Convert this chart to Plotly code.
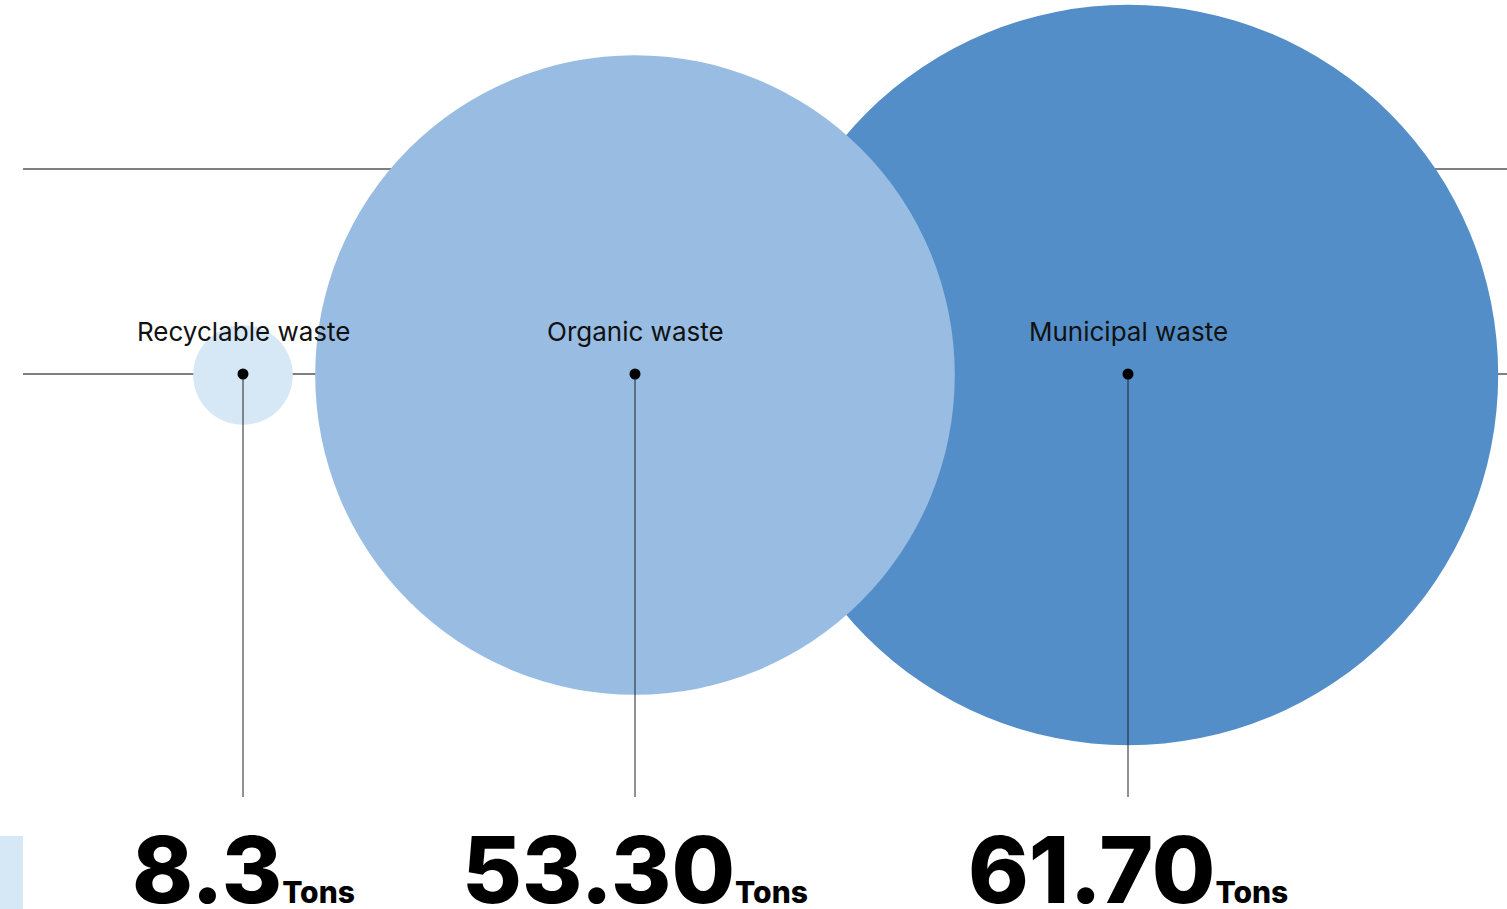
import plotly.graph_objects as go

# ---- data ----
categories = ["Recyclable waste", "Organic waste", "Municipal waste"]
values = [8.3, 53.30, 61.70]
value_labels = ["8.3", "53.30", "61.70"]
unit = "Tons"

# ---- styling / layout constants ----
colors = ["#D6E8F6", "#98BCE2", "#538EC8"]
centers_x = [243, 635, 1128]
center_y = 374
px_per_ton = 6.0
W, H = 1507, 909

fig = go.Figure()

shapes = []
# horizontal guide lines (behind circles)
shapes.append(dict(type="line", x0=23, x1=W, y0=169, y1=169, line=dict(color="#555555", width=1.3), layer="below"))
shapes.append(dict(type="line", x0=23, x1=W, y0=374, y1=374, line=dict(color="#000000", width=1.1), layer="below"))

# circles: draw largest first so smaller ones sit on top
order = sorted(range(len(values)), key=lambda i: -values[i])
for i in order:
    r = values[i] * px_per_ton
    cx = centers_x[i]
    shapes.append(dict(type="circle", xref="x", yref="y",
                       x0=cx - r, x1=cx + r, y0=center_y + 1 - r, y1=center_y + 1 + r,
                       fillcolor=colors[i], line=dict(width=0), layer="below"))

# vertical leader lines
for i in range(len(values)):
    shapes.append(dict(type="line", x0=centers_x[i], x1=centers_x[i], y0=center_y, y1=797,
                       line=dict(color="#222222", width=1), layer="below"))

# small block bottom-left
shapes.append(dict(type="rect", x0=0, x1=23, y0=836, y1=H, fillcolor=colors[0], line=dict(width=0), layer="below"))

# dots
fig.add_trace(go.Scatter(x=centers_x, y=[center_y] * len(values), mode="markers",
                         marker=dict(size=11, color="#000000", line=dict(width=0)),
                         hoverinfo="skip", showlegend=False))

annotations = []
for i, cat in enumerate(categories):
    annotations.append(dict(x=centers_x[i], y=331, text=cat, showarrow=False,
                            xanchor="center", yanchor="middle",
                            font=dict(family="Inter, Roboto, sans-serif", size=26, color="#111111")))
    annotations.append(dict(x=centers_x[i], y=869,
                            text=f"{value_labels[i]}<span style='font-size:30px'>{unit}</span>",
                            showarrow=False, xanchor="center", yanchor="middle",
                            font=dict(family="Inter, Liberation Sans, sans-serif", size=92,
                                      weight=800, color="#000000")))

fig.update_layout(
    width=W, height=H,
    margin=dict(l=0, r=0, t=0, b=0),
    paper_bgcolor="white", plot_bgcolor="white",
    xaxis=dict(range=[0, W], visible=False, fixedrange=True),
    yaxis=dict(range=[H, 0], visible=False, fixedrange=True),
    shapes=shapes, annotations=annotations,
    showlegend=False,
)

fig.write_html("out.html", config={"displayModeBar": False})
